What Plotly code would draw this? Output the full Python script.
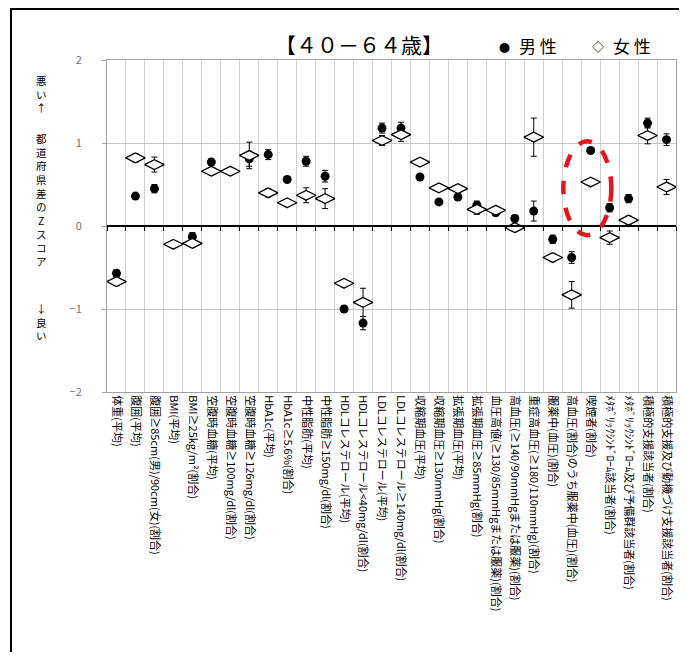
import plotly.graph_objects as go

categories = [
    "体重(平均)",
    "腹囲(平均)",
    "腹囲≥85cm(男)/90cm(女)(割合)",
    "BMI(平均)",
    "BMI≥25kg/m²(割合)",
    "空腹時血糖(平均)",
    "空腹時血糖≥100mg/dl(割合)",
    "空腹時血糖≥126mg/dl(割合)",
    "HbA1c(平均)",
    "HbA1c≥5.6%(割合)",
    "中性脂肪(平均)",
    "中性脂肪≥150mg/dl(割合)",
    "HDLコレステロール(平均)",
    "HDLコレステロール&lt;40mg/dl(割合)",
    "LDLコレステロール(平均)",
    "LDLコレステロール≥140mg/dl(割合)",
    "収縮期血圧(平均)",
    "収縮期血圧≥130mmHg(割合)",
    "拡張期血圧(平均)",
    "拡張期血圧≥85mmHg(割合)",
    "血圧高値(≥130/85mmHgまたは服薬)(割合)",
    "高血圧(≥140/90mmHgまたは服薬)(割合)",
    "重症高血圧(≥180/110mmHg)(割合)",
    "服薬中(血圧)(割合)",
    "高血圧(割合)のうち服薬中(血圧)(割合)",
    "喫煙者(割合)",
    "ﾒﾀﾎﾞﾘｯｸｼﾝﾄﾞﾛｰﾑ該当者(割合)",
    "ﾒﾀﾎﾞﾘｯｸｼﾝﾄﾞﾛｰﾑ及び予備群該当者(割合)",
    "積極的支援該当者(割合)",
    "積極的支援及び動機づけ支援該当者(割合)",
]

male = [-0.57, 0.36, 0.45, -0.22, -0.13, 0.77, 0.66, 0.81, 0.86, 0.56,
        0.78, 0.60, -1.00, -1.17, 1.18, 1.18, 0.59, 0.29, 0.35, 0.25,
        0.16, 0.09, 0.18, -0.16, -0.38, 0.91, 0.22, 0.33, 1.24, 1.04]
male_err = [0.04, 0.03, 0.05, 0.03, 0.05, 0.04, 0.03, 0.09, 0.06, 0.03,
            0.06, 0.07, 0.04, 0.08, 0.06, 0.07, 0.03, 0.03, 0.03, 0.05,
            0.03, 0.04, 0.12, 0.05, 0.07, 0.03, 0.05, 0.05, 0.06, 0.07]
female = [-0.67, 0.82, 0.74, -0.22, -0.21, 0.66, 0.66, 0.85, 0.40, 0.28,
          0.37, 0.33, -0.69, -0.92, 1.03, 1.10, 0.77, 0.46, 0.45, 0.20,
          0.19, -0.02, 1.07, -0.38, -0.83, 0.53, -0.14, 0.07, 1.09, 0.47]
female_err = [0.05, 0.05, 0.09, 0.03, 0.04, 0.04, 0.03, 0.16, 0.05, 0.03,
              0.09, 0.12, 0.04, 0.17, 0.06, 0.08, 0.04, 0.04, 0.04, 0.06,
              0.04, 0.04, 0.23, 0.05, 0.16, 0.03, 0.08, 0.05, 0.10, 0.09]

y_ticks = [-2, -1, 0, 1, 2]
y_tick_text = ["−2", "−1", "0", "1", "2"]

title_text = "【４０－６４歳】"
series_names = ["男性", "女性"]
ylabel_top = "悪い↑"
ylabel_mid = "都道府県差のZスコア"
ylabel_bot = "↓良い"

FONT = "Noto Sans CJK JP"
OFF = 8                      # page body margin of the html page
W, H = 671, 644
L, T = 107 - OFF, 60 - OFF
R = W - (676 - OFF)
B = H - (392 - OFF)
PW, PH = W - L - R, H - T - B


def px_x(x_page):
    return (x_page - OFF - L) / PW


def px_y(y_page):
    return ((392 - OFF) - (y_page - OFF)) / PH


fig = go.Figure()

fig.add_trace(go.Scatter(
    x=categories, y=male, mode="markers", name=series_names[0],
    marker=dict(symbol="circle", size=9, color="black"),
    error_y=dict(type="data", array=male_err, color="black", thickness=1, width=3),
    showlegend=False,
))
fig.add_trace(go.Scatter(
    x=categories, y=female, mode="markers", name=series_names[1],
    marker=dict(symbol="diamond-wide", size=14, color="white",
                line=dict(color="black", width=1.3)),
    error_y=dict(type="data", array=female_err, color="black", thickness=1, width=3),
    showlegend=False,
))
# carrier trace for the zero-line axis with boundary ticks
fig.add_trace(go.Scatter(
    x=categories, y=[None] * len(categories), xaxis="x2", mode="markers",
    showlegend=False, hoverinfo="skip",
))

annotations = []
annotations.append(dict(
    text=title_text, xref="paper", yref="paper", x=px_x(359), y=px_y(44),
    showarrow=False, font=dict(family=FONT, size=21, color="black"),
    xanchor="center", yanchor="middle",
))
annotations += [
    dict(text="●", xref="paper", yref="paper", x=px_x(505), y=px_y(47),
         showarrow=False, font=dict(family=FONT, size=11, color="black"),
         xanchor="center", yanchor="middle"),
    dict(text="男 性", xref="paper", yref="paper", x=px_x(517), y=px_y(46),
         showarrow=False, font=dict(family=FONT, size=17, color="black"),
         xanchor="left", yanchor="middle"),
    dict(text="◇", xref="paper", yref="paper", x=px_x(598), y=px_y(47),
         showarrow=False, font=dict(family=FONT, size=12, color="black"),
         xanchor="center", yanchor="middle"),
    dict(text="女 性", xref="paper", yref="paper", x=px_x(611), y=px_y(46),
         showarrow=False, font=dict(family=FONT, size=17, color="black"),
         xanchor="left", yanchor="middle"),
]

# vertical y-axis label, characters stacked upright (one per line)
for group, y_top in [(ylabel_top, 71), (ylabel_mid, 129), (ylabel_bot, 299)]:
    annotations.append(dict(
        text="<br>".join(group), xref="paper", yref="paper",
        x=px_x(41), y=px_y(y_top),
        showarrow=False, font=dict(family=FONT, size=10.5, color="black"),
        xanchor="center", yanchor="top", align="center",
    ))

fig.update_layout(
    width=W, height=H,
    margin=dict(l=L, r=R, t=T, b=B, pad=0),
    paper_bgcolor="white", plot_bgcolor="white",
    font=dict(family=FONT, color="black"),
    annotations=annotations,
    xaxis=dict(
        type="category", categoryorder="array", categoryarray=categories,
        range=[-0.5, len(categories) - 0.5],
        tickson="boundaries", showgrid=True, gridcolor="#cfcfcf", gridwidth=1,
        ticks="", tickangle=90, tickfont=dict(family=FONT, size=11, color="black"),
        showline=True, linecolor="#a0a0a0", linewidth=1, mirror=True,
        zeroline=False,
    ),
    xaxis2=dict(
        type="category", categoryorder="array", categoryarray=categories,
        overlaying="x", matches="x", anchor="free", position=0.5,
        tickson="boundaries", ticks="outside", ticklen=4, tickcolor="black", tickwidth=1,
        showticklabels=False, showgrid=False,
        showline=True, linecolor="black", linewidth=1.5, zeroline=False,
    ),
    yaxis=dict(
        range=[-2, 2], tickvals=y_ticks, ticktext=y_tick_text,
        showgrid=True, gridcolor="#c4c4c4", gridwidth=1,
        zeroline=False,
        ticks="outside", ticklen=4, tickcolor="#a0a0a0",
        ticklabelstandoff=18,
        tickfont=dict(family=FONT, size=11, color="#707070"),
        showline=True, linecolor="#a0a0a0", linewidth=1, mirror=True,
    ),
    shapes=[
        dict(type="circle", xref="x", yref="y", x0=23.56, x1=26.09, y0=-0.11, y1=1.02,
             line=dict(color="#e8141c", width=4.5, dash="dash")),
        dict(type="rect", xref="paper", yref="paper",
             x0=px_x(11), x1=px_x(720), y0=px_y(700), y1=px_y(9),
             line=dict(color="black", width=2)),
    ],
)

fig.write_html("out.html")
